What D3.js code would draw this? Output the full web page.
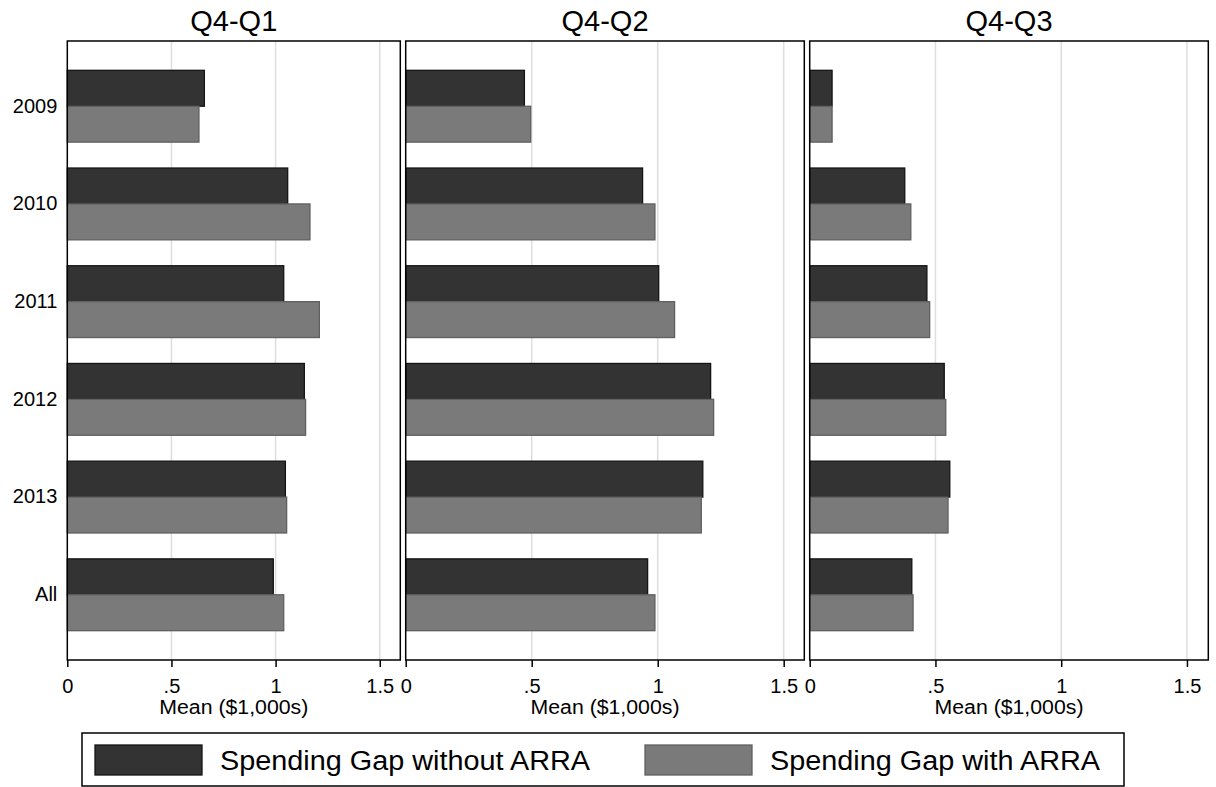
<!DOCTYPE html>
<html>
<head>
<meta charset="utf-8">
<script src="https://cdn.jsdelivr.net/npm/d3@7"></script>
<style>
  body { margin: 0; background: #fff; }
  text { font-family: "Liberation Sans", Arial, sans-serif; fill: #000; }
</style>
</head>
<body>
<div class="chart"></div>
<script>
var svgWidth = 1216;
var svgHeight = 787;

// Data
var panels = ["Q4-Q1", "Q4-Q2", "Q4-Q3"];
var categories = ["2009", "2010", "2011", "2012", "2013", "All"];
var seriesNames = ["Spending Gap without ARRA", "Spending Gap with ARRA"];
var withoutArra = [
  [0.658, 1.058, 1.039, 1.138, 1.047, 0.989],
  [0.471, 0.940, 1.004, 1.210, 1.179, 0.960],
  [0.089, 0.378, 0.466, 0.535, 0.557, 0.406]
];
var withArra = [
  [0.632, 1.165, 1.210, 1.144, 1.053, 1.039],
  [0.496, 0.989, 1.067, 1.222, 1.173, 0.989],
  [0.089, 0.402, 0.477, 0.541, 0.550, 0.411]
];
var xTicks = [0, 0.5, 1, 1.5];
var xTickLabels = ["0", ".5", "1", "1.5"];

// Layout
var plotTop = 41, plotBottom = 660;
var panelLeft = [67.3, 405.7, 809.7];
var panelRight = [400.3, 804.3, 1208.3];
var panelUnit = [208.3, 252, 251.5];
var fills = ["#333333", "#7a7a7a"];
var strokes = ["#151515", "#606060"];

var svg = d3.select(".chart")
  .append("svg")
  .attr("width", svgWidth)
  .attr("height", svgHeight);

var yScale = d3.scaleBand()
  .domain(categories)
  .range([plotTop, plotBottom])
  .paddingInner(0.265)
  .paddingOuter(0.3);

var subScale = d3.scaleBand()
  .domain([0, 1])
  .range([0, yScale.bandwidth()]);

panels.forEach(function(name, p) {
  var left = panelLeft[p], right = panelRight[p];
  var xScale = d3.scaleLinear()
    .domain([0, 1.5])
    .range([left, left + 1.5 * panelUnit[p]]);

  var g = svg.append("g");

  // grid lines
  g.selectAll("line.grid")
    .data(xTicks.filter(d => d > 0))
    .enter()
    .append("line")
    .attr("x1", d => xScale(d))
    .attr("x2", d => xScale(d))
    .attr("y1", plotTop)
    .attr("y2", plotBottom)
    .attr("stroke", "#dedede")
    .attr("stroke-width", 1.5);

  // bars
  var rows = categories.map(function(c, i) {
    return { cat: c, vals: [withoutArra[p][i], withArra[p][i]] };
  });
  rows.forEach(function(r) {
    g.selectAll(null)
      .data(r.vals)
      .enter()
      .append("rect")
      .attr("x", xScale(0))
      .attr("y", (d, k) => yScale(r.cat) + subScale(k))
      .attr("width", d => xScale(d) - xScale(0))
      .attr("height", subScale.bandwidth())
      .attr("fill", (d, k) => fills[k])
      .attr("stroke", (d, k) => strokes[k])
      .attr("stroke-width", 1.3);
  });

  // frame
  g.append("rect")
    .attr("x", left)
    .attr("y", plotTop)
    .attr("width", right - left)
    .attr("height", plotBottom - plotTop)
    .attr("fill", "none")
    .attr("stroke", "#000")
    .attr("stroke-width", 1.5);

  // x axis
  var bottomAxis = d3.axisBottom(xScale)
    .tickValues(xTicks)
    .tickFormat((d, i) => xTickLabels[i])
    .tickSize(7)
    .tickPadding(12);
  var ax = g.append("g")
    .attr("transform", `translate(0, ${plotBottom})`)
    .call(bottomAxis)
    .attr("font-size", 20)
    .attr("font-family", "Liberation Sans, Arial, sans-serif");
  ax.select(".domain").remove();
  ax.selectAll("line").attr("stroke", "#000").attr("stroke-width", 1.5);

  // y axis (first panel only)
  if (p === 0) {
    var leftAxis = d3.axisLeft(yScale).tickSize(0).tickPadding(10);
    var ay = g.append("g")
      .attr("transform", `translate(${left}, 0)`)
      .call(leftAxis)
      .attr("font-size", 20)
      .attr("font-family", "Liberation Sans, Arial, sans-serif");
    ay.select(".domain").remove();
  }

  // title
  g.append("text")
    .attr("x", (left + right) / 2)
    .attr("y", 31)
    .attr("text-anchor", "middle")
    .attr("font-size", 29)
    .text(name);

  // axis title
  g.append("text")
    .attr("x", (left + right) / 2)
    .attr("y", 714)
    .attr("text-anchor", "middle")
    .attr("font-size", 20)
    .attr("textLength", 149)
    .attr("lengthAdjust", "spacingAndGlyphs")
    .text("Mean ($1,000s)");
});

// Legend
var legend = svg.append("g");
legend.append("rect")
  .attr("x", 82)
  .attr("y", 733)
  .attr("width", 1042)
  .attr("height", 53)
  .attr("fill", "#fff")
  .attr("stroke", "#000")
  .attr("stroke-width", 1.5);

var legendX = [95, 645];
var textX = [220, 770];
var textLen = [370, 330];
seriesNames.forEach(function(s, k) {
  legend.append("rect")
    .attr("x", legendX[k])
    .attr("y", 745)
    .attr("width", 107)
    .attr("height", 30)
    .attr("fill", fills[k])
    .attr("stroke", strokes[k])
    .attr("stroke-width", 1.3);
  legend.append("text")
    .attr("x", textX[k])
    .attr("y", 770)
    .attr("font-size", 27)
    .attr("textLength", textLen[k])
    .attr("lengthAdjust", "spacingAndGlyphs")
    .text(s);
});
</script>
</body>
</html>
